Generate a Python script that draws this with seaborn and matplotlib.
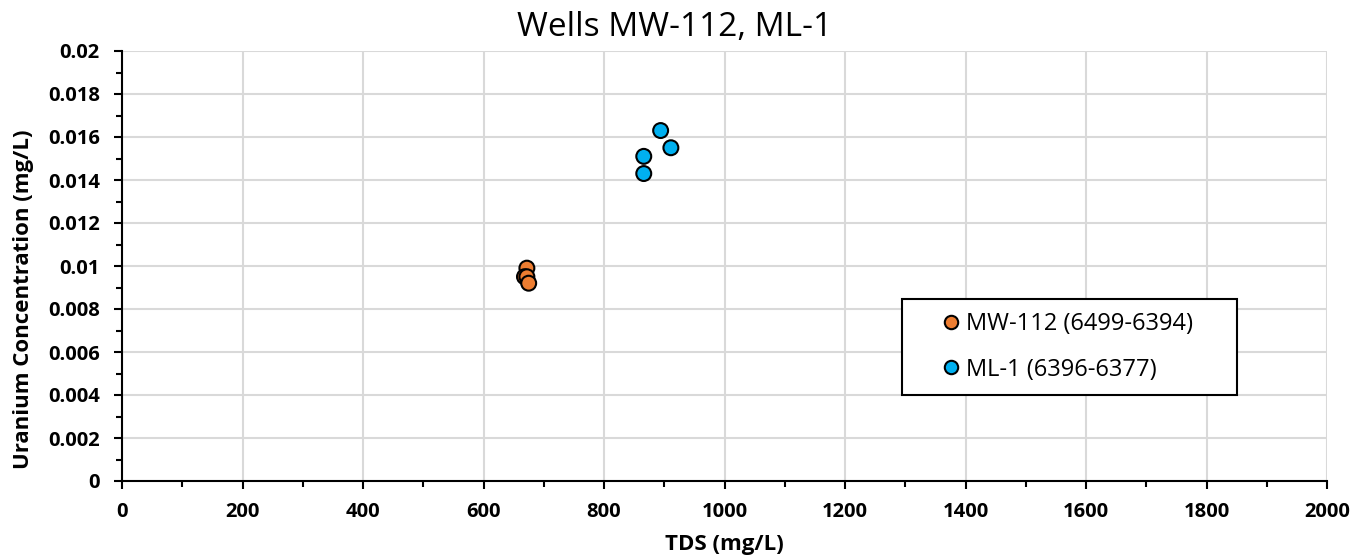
import pandas as pd
import matplotlib
matplotlib.use("Agg")
import matplotlib.pyplot as plt
from matplotlib.patches import Rectangle
from matplotlib.ticker import MultipleLocator
import seaborn as sns

# data
mw112_tds = [672, 668, 672, 675]
mw112_u = [0.0099, 0.0095, 0.0095, 0.0092]
ml1_tds = [894, 911, 866, 866]
ml1_u = [0.0163, 0.0155, 0.0151, 0.0143]
series_names = ["MW-112 (6499-6394)", "ML-1 (6396-6377)"]
series_colors = ["#ED7D31", "#00B0F0"]
y_tick_labels = ["0", "0.002", "0.004", "0.006", "0.008", "0.01", "0.012",
                 "0.014", "0.016", "0.018", "0.02"]

df = pd.DataFrame({
    "tds": mw112_tds + ml1_tds,
    "u": mw112_u + ml1_u,
    "well": [series_names[0]] * len(mw112_tds) + [series_names[1]] * len(ml1_tds),
})

sns.set_style("white")
plt.rcParams["font.family"] = ["Open Sans", "DejaVu Sans"]
plt.rcParams["text.color"] = "black"
plt.rcParams["axes.labelcolor"] = "black"
plt.rcParams["xtick.color"] = "black"
plt.rcParams["ytick.color"] = "black"

fig = plt.figure(figsize=(13.68, 5.58), dpi=100)
ax = fig.add_axes([122 / 1368, 1 - 481 / 558, 1205 / 1368, 430 / 558])

sns.scatterplot(data=df, x="tds", y="u", hue="well", palette=series_colors,
                s=115, edgecolor="black", linewidth=1.5, ax=ax, zorder=3)

ax.set_xlim(0, 2000)
ax.set_ylim(0, 0.02)
ax.xaxis.set_major_locator(MultipleLocator(200))
ax.xaxis.set_minor_locator(MultipleLocator(100))
ax.set_yticks([i * 0.002 for i in range(len(y_tick_labels))])
ax.set_yticklabels(y_tick_labels)
ax.yaxis.set_minor_locator(MultipleLocator(0.001))

ax.grid(True, which="major", color="#d9d9d9", linewidth=1.5)
ax.set_axisbelow(True)
for side in ["top", "right"]:
    ax.spines[side].set_visible(False)
for side in ["left", "bottom"]:
    ax.spines[side].set_color("black")
    ax.spines[side].set_linewidth(1.5)

ax.tick_params(which="major", direction="out", length=6, width=1.5, labelsize=14.5)
ax.tick_params(which="minor", direction="out", length=4, width=1.5)
ax.tick_params(axis="y", which="major", pad=10)
ax.tick_params(axis="x", which="major", pad=9)
ax.tick_params(axis="x", which="both", bottom=True)
ax.tick_params(axis="y", which="both", left=True)
for lbl in ax.get_xticklabels() + ax.get_yticklabels():
    lbl.set_fontweight("bold")

ax.set_xlabel("TDS (mg/L)", fontsize=16, fontweight="bold", labelpad=9)
ax.set_ylabel("Uranium Concentration (mg/L)", fontsize=16, fontweight="bold")
ax.yaxis.set_label_coords(-0.073, 0.423)
fig.text(675 / 1368, 1 - 27 / 558, "Wells MW-112, ML-1",
         ha="center", va="center", fontsize=24)

# legend box drawn separately so its size matches the reference
ax.add_patch(Rectangle((0.647, 0.2), 0.278, 0.223, transform=ax.transAxes,
                       facecolor="white", edgecolor="black", linewidth=1.5, zorder=4))
leg = ax.legend(loc="center left", bbox_to_anchor=(0.678, 0.3116), frameon=False,
                fontsize=17, markerscale=0.9, handletextpad=0.15, labelspacing=0.9,
                borderpad=0, borderaxespad=0, handlelength=1.0)
leg.set_zorder(5)
for h in leg.legend_handles:
    h.set_markeredgecolor("black")

fig.savefig("out.png", dpi=100)
